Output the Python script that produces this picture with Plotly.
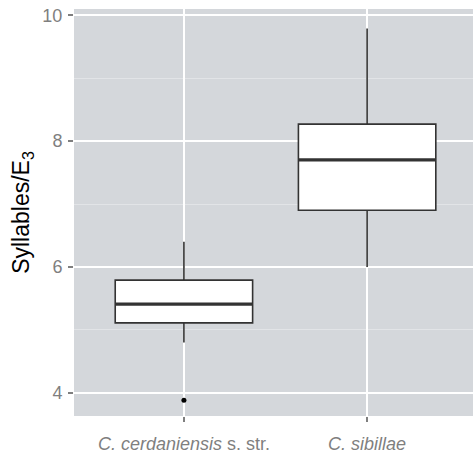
import plotly.graph_objects as go

# Syllables per E3 phrase, summary statistics per taxon
categories = ["<i>C. cerdaniensis</i> s. str.", "<i>C. sibillae</i>"]
positions = [1, 2]
lower_whisker = [4.80, 6.00]
q1 = [5.11, 6.90]
median = [5.41, 7.70]
q3 = [5.79, 8.27]
upper_whisker = [6.40, 9.79]
outlier_x = [1]
outlier_y = [3.88]

BOX_WIDTH = 0.75
PANEL_BG = "#d4d7db"
MINOR_GRID = "#e2e4e7"
TICK_GRAY = "#7f7f7f"
LINE = "#333333"

fig = go.Figure()

fig.add_trace(go.Box(
    x=positions,
    q1=q1, median=median, q3=q3,
    lowerfence=lower_whisker, upperfence=upper_whisker,
    width=BOX_WIDTH,
    fillcolor="white",
    line=dict(color=LINE, width=1.6),
    whiskerwidth=0,
    boxpoints=False,
    showlegend=False,
    hoverinfo="skip",
))

# thicker median bars drawn over each box
for p, m in zip(positions, median):
    fig.add_trace(go.Scatter(
        x=[p - BOX_WIDTH / 2, p + BOX_WIDTH / 2], y=[m, m],
        mode="lines", line=dict(color=LINE, width=3.2),
        showlegend=False, hoverinfo="skip",
    ))

fig.add_trace(go.Scatter(
    x=outlier_x, y=outlier_y, mode="markers",
    marker=dict(color="black", size=5),
    showlegend=False, hoverinfo="skip",
))

fig.update_layout(
    width=473, height=455,
    margin=dict(l=74, r=0, t=9, b=39),
    paper_bgcolor="white",
    plot_bgcolor=PANEL_BG,
    font=dict(family="Liberation Sans, Arial, sans-serif"),
)

fig.update_xaxes(
    range=[0.4, 2.578],
    tickvals=positions, ticktext=categories,
    tickfont=dict(size=18, color=TICK_GRAY),
    ticks="outside", ticklen=5, tickcolor=TICK_GRAY, tickwidth=1.5,
    ticklabelstandoff=6,
    automargin=False,
    showgrid=True, gridcolor="white", gridwidth=2,
    zeroline=False, showline=False,
)

fig.update_yaxes(
    range=[3.63, 10.1],
    tick0=0, dtick=2,
    tickfont=dict(size=18, color=TICK_GRAY),
    ticks="outside", ticklen=5, tickcolor=TICK_GRAY, tickwidth=1.5,
    ticklabelstandoff=2,
    automargin=False,
    showgrid=True, gridcolor="white", gridwidth=2,
    minor=dict(dtick=1, tick0=0, showgrid=True, gridcolor=MINOR_GRID, gridwidth=1, ticks=""),
    zeroline=False, showline=False,
    title=dict(text="Syllables/E<sub>3</sub>", font=dict(size=23, color="black"), standoff=6),
)

fig.write_html("out.html")
